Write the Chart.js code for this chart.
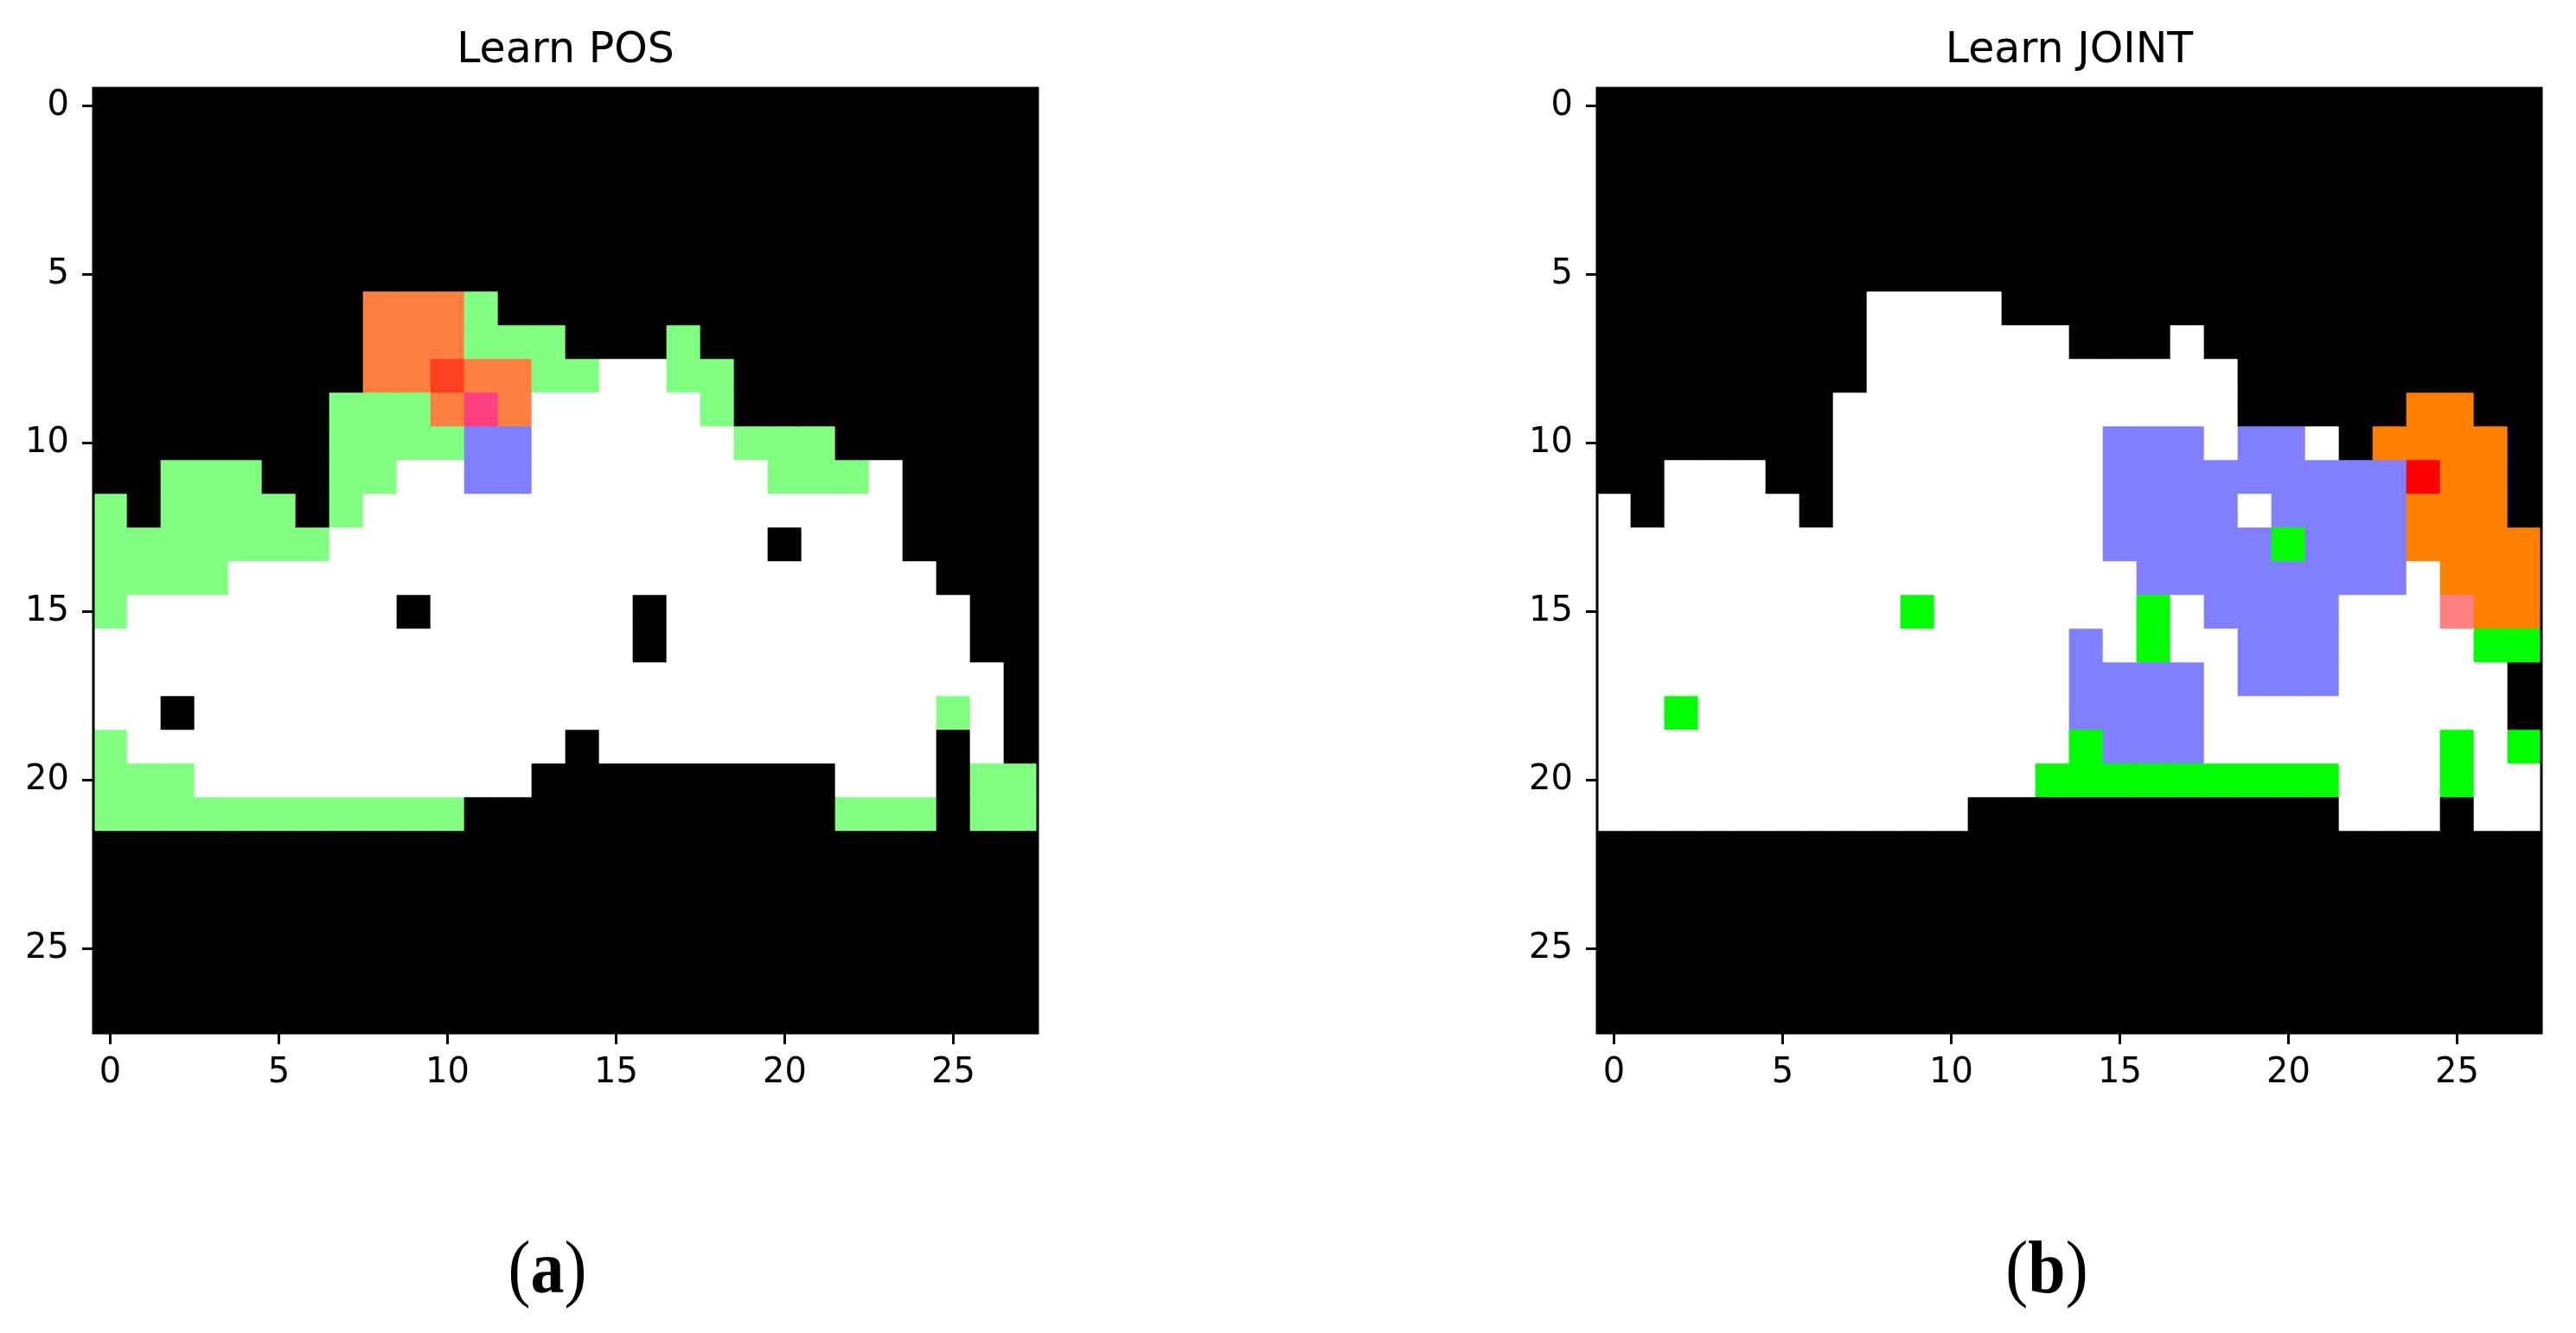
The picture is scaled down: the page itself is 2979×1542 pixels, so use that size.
<!DOCTYPE html>
<html>
<head>
<meta charset="utf-8">
<title>Learn POS / Learn JOINT</title>
<script src="https://cdn.jsdelivr.net/npm/chart.js@4"></script>
<style>
  html, body { margin: 0; background: #fff; overflow: hidden; }
  canvas { position: absolute; top: 0; }
  .caption {
    position: absolute; top: 1413px; width: 200px; text-align: center;
    font-family: "Liberation Serif", serif; font-size: 78px; line-height: 106px; color: #000;
    transform: scaleY(1.1);
  }
</style>
</head>
<body>
<canvas id="chartA" width="1208" height="1300" style="left:0px"></canvas>
<canvas id="chartB" width="1208" height="1300" style="left:1739px"></canvas>
<div class="caption" style="left:533px">(<b>a</b>)</div>
<div class="caption" style="left:2267px">(<b>b</b>)</div>

<script>
const columns = Array.from({ length: 28 }, (_, i) => String(i));
const tickValues = [0, 5, 10, 15, 20, 25];
const titles = ['Learn POS', 'Learn JOINT'];

// one letter per cell, rows top to bottom
const blackRow = 'KKKKKKKKKKKKKKKKKKKKKKKKKKKK';

const cellsPos = [
  blackRow, blackRow, blackRow, blackRow, blackRow, blackRow,
  'KKKKKKKKOOOGKKKKKKKKKKKKKKKK',
  'KKKKKKKKOOOGGGKKKGKKKKKKKKKK',
  'KKKKKKKKOOROOGGWWGGKKKKKKKKK',
  'KKKKKKKGGGOPOWWWWWGKKKKKKKKK',
  'KKKKKKKGGGGBBWWWWWWGGGKKKKKK',
  'KKGGGKKGGWWBBWWWWWWWGGGWKKKK',
  'GKGGGGKGWWWWWWWWWWWWWWWWKKKK',
  'GGGGGGGWWWWWWWWWWWWWKWWWKKKK',
  'GGGGWWWWWWWWWWWWWWWWWWWWWKKK',
  'GWWWWWWWWKWWWWWWKWWWWWWWWWKK',
  'WWWWWWWWWWWWWWWWKWWWWWWWWWKK',
  'WWWWWWWWWWWWWWWWWWWWWWWWWWWK',
  'WWKWWWWWWWWWWWWWWWWWWWWWWGWK',
  'GWWWWWWWWWWWWWKWWWWWWWWWWKWK',
  'GGGWWWWWWWWWWKKKKKKKKKWWWKGG',
  'GGGGGGGGGGGKKKKKKKKKKKGGGKGG',
  blackRow, blackRow, blackRow, blackRow, blackRow, blackRow
];

const cellsJoint = [
  blackRow, blackRow, blackRow, blackRow, blackRow, blackRow,
  'KKKKKKKKWWWWKKKKKKKKKKKKKKKK',
  'KKKKKKKKWWWWWWKKKWKKKKKKKKKK',
  'KKKKKKKKWWWWWWWWWWWKKKKKKKKK',
  'KKKKKKKWWWWWWWWWWWWKKKKKOOKK',
  'KKKKKKKWWWWWWWWBBBWBBWKOOOOK',
  'KKWWWKKWWWWWWWWBBBBBBBBBROOK',
  'WKWWWWKWWWWWWWWBBBBWBBBBOOOK',
  'WWWWWWWWWWWWWWWBBBBBGBBBOOOO',
  'WWWWWWWWWWWWWWWWBBBBBBBBWOOO',
  'WWWWWWWWWGWWWWWWGWBBBBWWWPOO',
  'WWWWWWWWWWWWWWBWGWWBBBWWWWGG',
  'WWWWWWWWWWWWWWBBBBWBBBWWWWWK',
  'WWGWWWWWWWWWWWBBBBWWWWWWWWWK',
  'WWWWWWWWWWWWWWGBBBWWWWWWWGWG',
  'WWWWWWWWWWWWWGGGGGGGGGWWWGWW',
  'WWWWWWWWWWWKKKKKKKKKKKWWWKWW',
  blackRow, blackRow, blackRow, blackRow, blackRow, blackRow
];

const colorsPos = { K: '#000000', W: '#ffffff', G: '#80ff80', O: '#ff8040', R: '#ff4020', P: '#ff4080', B: '#8080ff' };
const colorsJoint = { K: '#000000', W: '#ffffff', G: '#00ff00', O: '#ff8000', R: '#ff0000', P: '#ff8080', B: '#8080ff' };

const tickFont = { family: '"DejaVu Sans"', size: 40, lineHeight: 1 };

// matplotlib style frame round the image
const frame = {
  id: 'frame',
  afterDatasetsDraw(chart) {
    const a = chart.chartArea;
    const c = chart.ctx;
    c.save();
    c.strokeStyle = '#000';
    c.lineWidth = 3;
    c.strokeRect(a.left, a.top - 1, a.right - a.left, a.bottom - a.top + 1);
    c.restore();
  }
};

function makeHeatmap(id, title, cells, colors) {
  // each row is one dataset of floating bars, one bar per column
  const datasets = cells.map((row, r) => ({
    data: columns.map(() => [r - 0.5, r + 0.5]),
    backgroundColor: row.split('').map(k => colors[k]),
    borderWidth: 0,
    barPercentage: 1,
    categoryPercentage: 1,
    grouped: false
  }));

  return new Chart(document.getElementById(id), {
    type: 'bar',
    data: { labels: columns, datasets: datasets },
    plugins: [frame],
    options: {
      responsive: false,
      animation: false,
      layout: { padding: { right: 8 } },
      plugins: {
        legend: { display: false },
        tooltip: { enabled: false },
        title: {
          display: true,
          text: title,
          color: '#000',
          fullSize: false,
          font: { family: '"DejaVu Sans"', size: 49, weight: 'normal', lineHeight: 1 },
          padding: { top: 35, bottom: 19 }
        }
      },
      scales: {
        x: {
          type: 'category',
          offset: true,
          afterBuildTicks: s => { s.ticks = tickValues.map(v => ({ value: v })); },
          afterFit: s => { s.height = 105; },
          grid: { offset: false, drawOnChartArea: false, tickLength: 13, tickWidth: 3, tickColor: '#000' },
          border: { display: false },
          ticks: { autoSkip: false, maxRotation: 0, color: '#000', font: tickFont, padding: 14 }
        },
        y: {
          type: 'linear',
          reverse: true,
          min: -0.5,
          max: 27.5,
          afterBuildTicks: s => { s.ticks = tickValues.map(v => ({ value: v })); },
          afterFit: s => { s.width = 108; },
          grid: { drawOnChartArea: false, tickLength: 13, tickWidth: 3, tickColor: '#000' },
          border: { display: false },
          ticks: { color: '#000', font: tickFont, padding: 15, callback: v => String(v) }
        }
      }
    }
  });
}

makeHeatmap('chartA', titles[0], cellsPos, colorsPos);
makeHeatmap('chartB', titles[1], cellsJoint, colorsJoint);
</script>
</body>
</html>
